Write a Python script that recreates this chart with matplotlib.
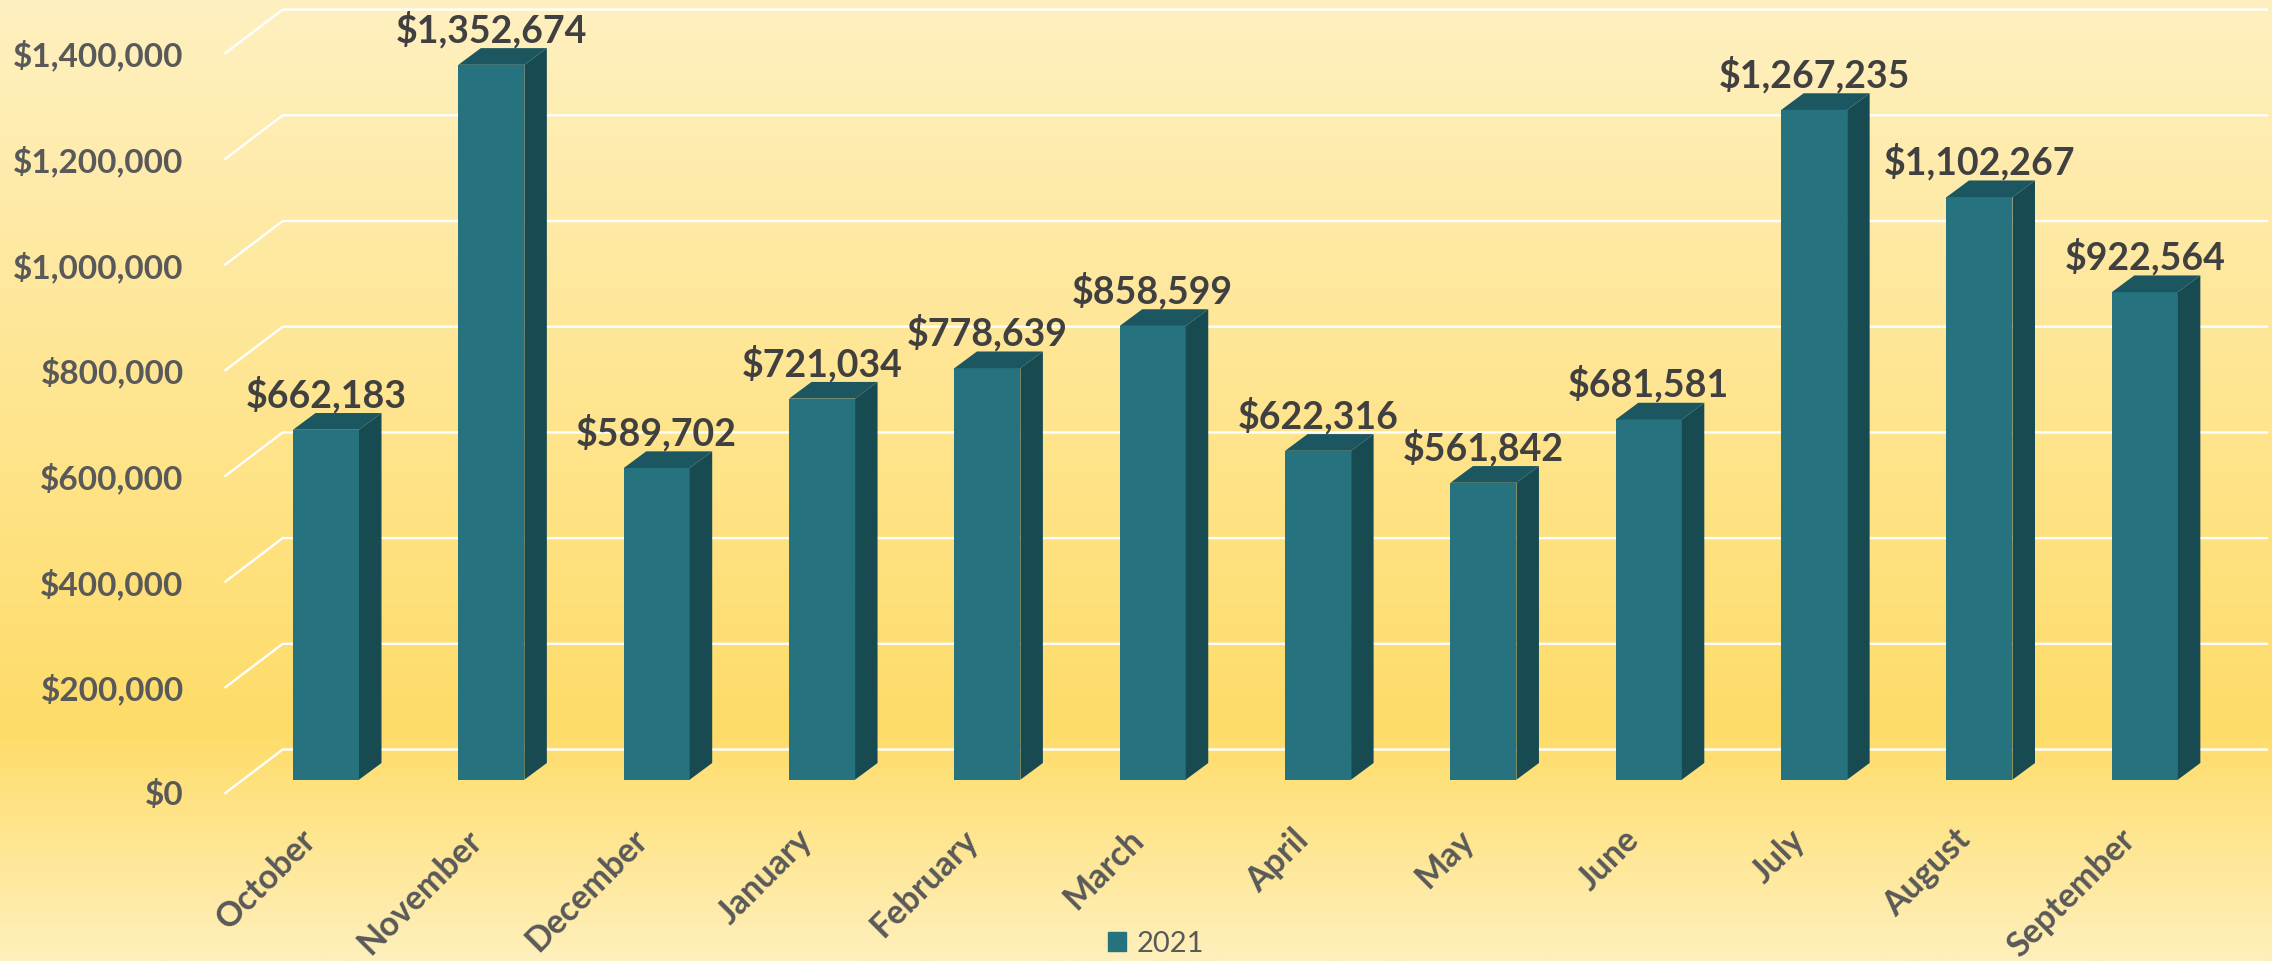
import numpy as np
import matplotlib
matplotlib.use('Agg')
import matplotlib.pyplot as plt
from matplotlib.colors import LinearSegmentedColormap
from matplotlib.patches import Patch, Polygon
from matplotlib.ticker import FuncFormatter
from matplotlib.transforms import ScaledTranslation

months = ['October', 'November', 'December', 'January', 'February', 'March',
          'April', 'May', 'June', 'July', 'August', 'September']
sales = [662183, 1352674, 589702, 721034, 778639, 858599,
         622316, 561842, 681581, 1267235, 1102267, 922564]
y_ticks = [0, 200000, 400000, 600000, 800000, 1000000, 1200000, 1400000]
series_name = '2021'

W, H = 2272, 961
plt.rcParams['font.family'] = ['Lato', 'DejaVu Sans']

fig = plt.figure(figsize=(W / 100, H / 100), dpi=100)

# Background gradient
bg = fig.add_axes([0, 0, 1, 1], zorder=0)
cmap = LinearSegmentedColormap.from_list(
    'gold', [(0, '#FEF0C0'), (0.76, '#FFDC69'), (1, '#FEF0BC')])
bg.imshow(np.linspace(0, 1, 512).reshape(-1, 1), cmap=cmap, aspect='auto')
bg.axis('off')

# Axes: y=0 sits on the front edge of the floor
left, right, bottom = 225.4, 2267, 793
ax = fig.add_axes([left / W, (H - bottom) / H, (right - left) / W, bottom / H], zorder=1)
ax.patch.set_alpha(0)
px_x = 165.35          # pixels per category
px_y = 105.7 / 200000  # pixels per dollar
center0 = 326
ax.set_xlim((left - center0) / px_x, (right - center0) / px_x)
ax.set_ylim(0, bottom / px_y)

# Depth of the fake 3D, in data units
wall_dx, wall_dy = 57.3 / px_x, 43.5 / px_y
floor_dy = 13.3 / px_y
bar_w = 66 / px_x
depth_dx, depth_dy = 22.5 / px_x, 16.7 / px_y

for v in y_ticks:
    x0, x1 = ax.get_xlim()
    ax.plot([x0, x0 + wall_dx, x1], [v, v + wall_dy, v + wall_dy],
            color='white', lw=1.7, zorder=1, clip_on=False)

x = np.arange(len(months))
ax.bar(x, sales, bar_w, bottom=floor_dy, color='#26727F', zorder=3)
for xi, v in zip(x, sales):
    xr = xi + bar_w / 2
    xl = xi - bar_w / 2
    yb = floor_dy
    yt = floor_dy + v
    ax.add_patch(Polygon([(xr, yb), (xr + depth_dx, yb + depth_dy),
                          (xr + depth_dx, yt + depth_dy), (xr, yt)],
                         closed=True, fc='#184A52', ec='none', zorder=3))
    ax.add_patch(Polygon([(xl, yt), (xl + depth_dx, yt + depth_dy),
                          (xr + depth_dx, yt + depth_dy), (xr, yt)],
                         closed=True, fc='#1C5661', ec='none', zorder=3))
    ax.annotate('${:,}'.format(v), (xi, yt), xytext=(0, 16.3), textcoords='offset points',
                ha='center', va='baseline', fontsize=27, fontweight='bold',
                color='#404040', zorder=4)

ax.set_yticks(y_ticks)
ax.yaxis.set_major_formatter(FuncFormatter(lambda v, pos: '${:,.0f}'.format(v)))
ax.set_xticks(x)
ax.set_xticklabels(months, rotation=45, ha='right', va='top', rotation_mode='anchor')
ax.tick_params(axis='y', length=0, pad=30, labelsize=24, labelcolor='#595959')
ax.tick_params(axis='x', length=0, pad=22, labelsize=24.5, labelcolor='#595959')
for lab in ax.get_xticklabels() + ax.get_yticklabels():
    lab.set_fontweight('bold')
# month labels sit left of the bar centre
shift = ScaledTranslation(-26 / 100, 0, fig.dpi_scale_trans)
for lab in ax.get_xticklabels():
    lab.set_transform(lab.get_transform() + shift)
for s in ax.spines.values():
    s.set_visible(False)

fig.legend(handles=[Patch(color='#26727F', label=series_name)], loc='lower left',
           bbox_to_anchor=(1105 / W, 0.001), frameon=False, fontsize=21,
           labelcolor='#595959', handlelength=0.62, handleheight=0.62,
           handletextpad=0.35, borderpad=0.1, borderaxespad=0)

fig.savefig('out.png', dpi=100)
